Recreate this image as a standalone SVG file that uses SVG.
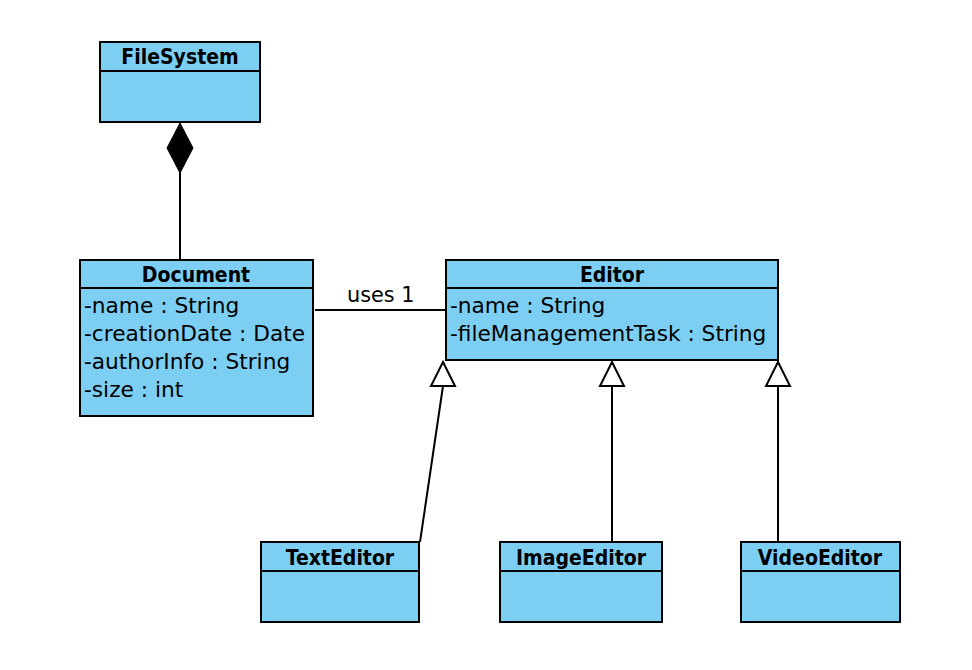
<svg xmlns="http://www.w3.org/2000/svg" width="972" height="670" viewBox="0 0 972 670">
<style>
.box{fill:#7ccff3;stroke:#000;stroke-width:2}
.div{stroke:#000;stroke-width:2}
.t{font-family:"DejaVu Sans",sans-serif;font-size:21.7px;fill:#000}
.h{font-family:"DejaVu Sans Condensed","DejaVu Sans",sans-serif;font-stretch:condensed;font-size:21px;font-weight:bold;fill:#000;text-anchor:middle}
.c{stroke:#000;stroke-width:2;fill:none}
.tri{fill:#fff;stroke:#000;stroke-width:2}
</style>
<rect width="972" height="670" fill="#fff"/>
<g id="connectors">
<line class="c" x1="180" y1="172" x2="180" y2="260"/>
<polygon points="180,123 193,148 180,173 167,148" fill="#000" stroke="#000" stroke-width="1"/>
<line class="c" x1="315" y1="310" x2="445" y2="310"/>
<text class="t" x="347" y="302" style="font-size:20.8px">uses 1</text>
<line class="c" x1="420" y1="542" x2="443" y2="386"/>
<polygon class="tri" points="443,362 455,386 431,386"/>
<line class="c" x1="612" y1="542" x2="612" y2="386"/>
<polygon class="tri" points="612,362 624,386 600,386"/>
<line class="c" x1="778" y1="542" x2="778" y2="386"/>
<polygon class="tri" points="778,362 790,386 766,386"/>
</g>
<g id="FileSystem">
<rect class="box" x="100" y="42" width="160" height="80"/>
<line class="div" x1="100" y1="71" x2="260" y2="71"/>
<text class="h" x="180" y="64">FileSystem</text>
</g>
<g id="Document">
<rect class="box" x="80" y="260" width="233" height="156"/>
<line class="div" x1="80" y1="288" x2="313" y2="288"/>
<text class="h" x="196" y="282">Document</text>
<text class="t" x="84" y="313">-name : String</text>
<text class="t" x="84" y="341">-creationDate : Date</text>
<text class="t" x="84" y="369">-authorInfo : String</text>
<text class="t" x="84" y="397">-size : int</text>
</g>
<g id="Editor">
<rect class="box" x="446" y="260" width="332" height="100"/>
<line class="div" x1="446" y1="288" x2="778" y2="288"/>
<text class="h" x="612" y="282">Editor</text>
<text class="t" x="450" y="313">-name : String</text>
<text class="t" x="450" y="341">-fileManagementTask : String</text>
</g>
<g id="TextEditor">
<rect class="box" x="261" y="542" width="158" height="80"/>
<line class="div" x1="261" y1="571" x2="419" y2="571"/>
<text class="h" x="340" y="565">TextEditor</text>
</g>
<g id="ImageEditor">
<rect class="box" x="500" y="542" width="162" height="80"/>
<line class="div" x1="500" y1="571" x2="662" y2="571"/>
<text class="h" x="581" y="565">ImageEditor</text>
</g>
<g id="VideoEditor">
<rect class="box" x="741" y="542" width="159" height="80"/>
<line class="div" x1="741" y1="571" x2="900" y2="571"/>
<text class="h" x="820" y="565">VideoEditor</text>
</g>
</svg>
